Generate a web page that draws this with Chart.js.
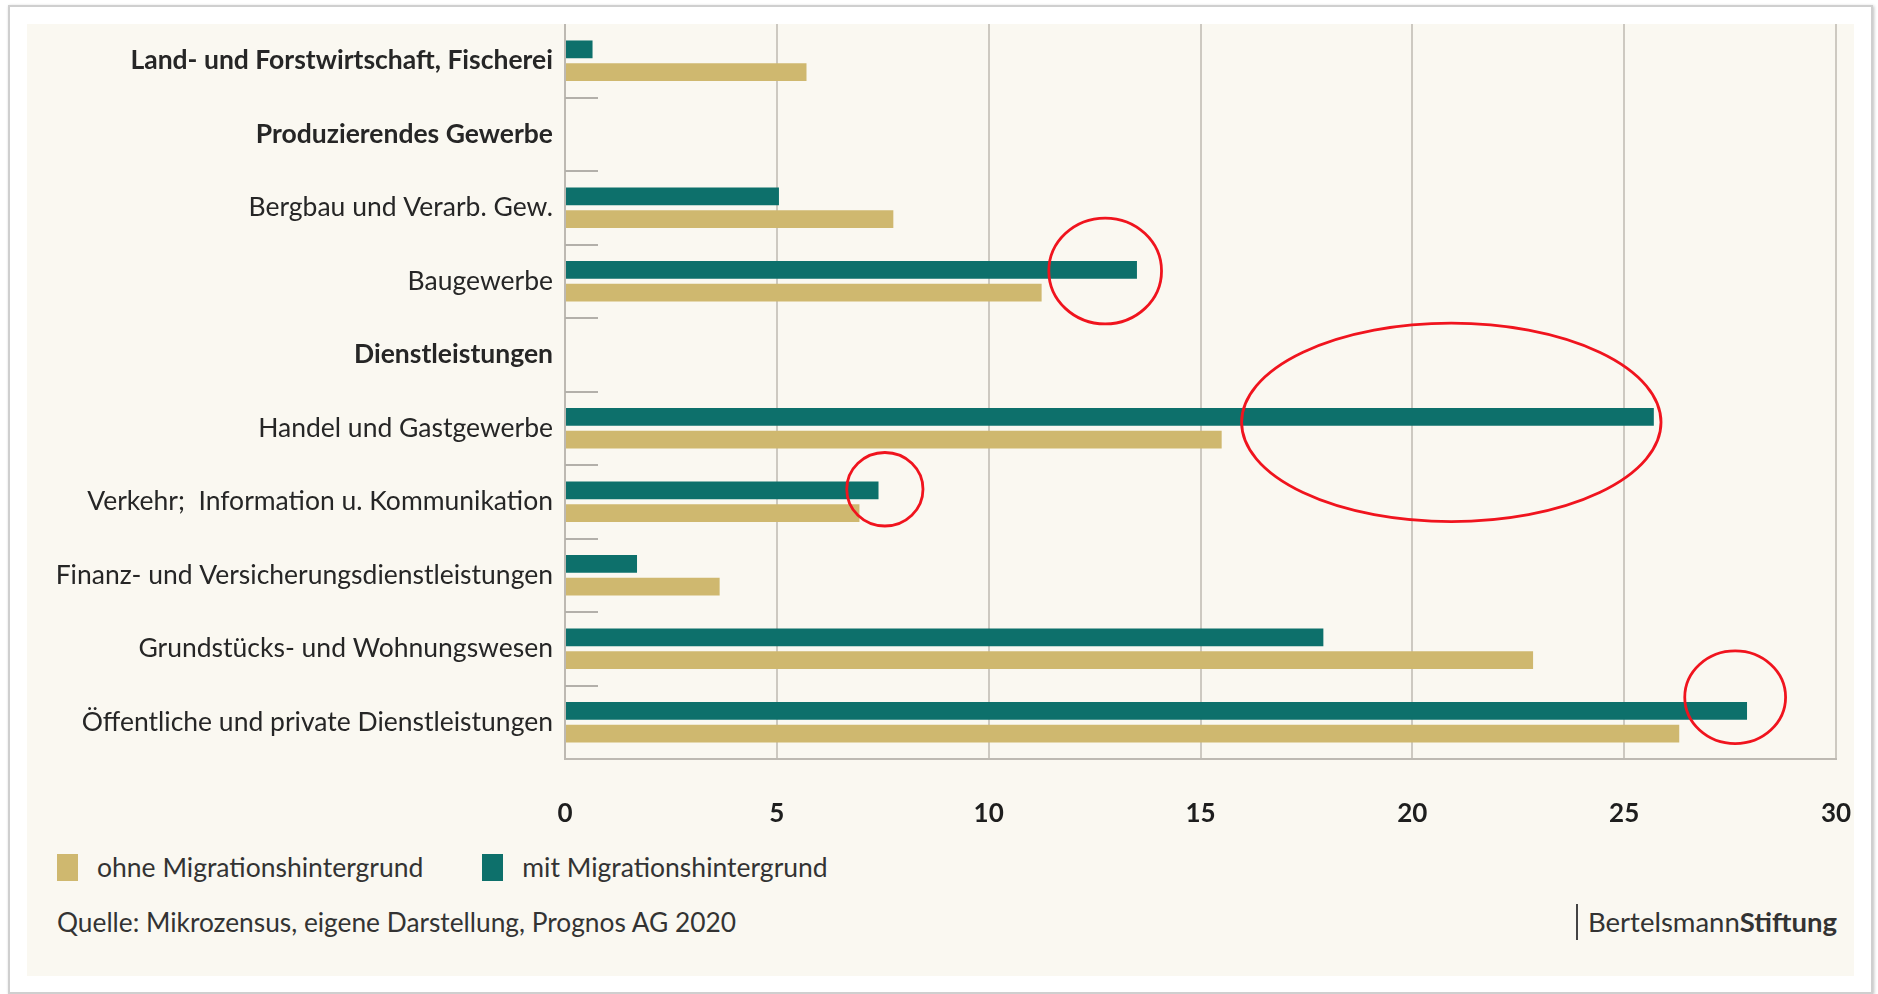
<!DOCTYPE html>
<html>
<head>
<meta charset="utf-8">
<script src="https://cdn.jsdelivr.net/npm/chart.js@4.4.1/dist/chart.umd.min.js"></script>
<style>
  html, body { margin: 0; padding: 0; background: #fff; }
  body { width: 1878px; height: 994px; position: relative; overflow: hidden; font-family: Lato, "Open Sans", sans-serif; color: #333; }
  .frame { position: absolute; left: 8px; top: 5px; width: 1861px; height: 985px; border: 2px solid #cfcfcf; box-shadow: 1px 1px 3px rgba(0,0,0,0.25); background: #fff; }
  .cream { position: absolute; left: 27px; top: 24px; width: 1827px; height: 952px; background: #faf8f1; }
  .chart-box { position: absolute; left: 27px; top: 24px; width: 1827px; height: 803px; }
  #legend { position: absolute; left: 57px; top: 851px; display: flex; align-items: center; font-size: 26.5px; }
  #legend .item { display: flex; align-items: center; margin-right: 59px; }
  #legend .box { width: 21px; height: 27px; margin-right: 19px; }
  .source { position: absolute; left: 57px; top: 906px; font-size: 26.3px; line-height: 32px; }
  .logo { position: absolute; left: 1576px; top: 904px; height: 36px; border-left: 2px solid #444; padding-left: 10px; font-size: 27.5px; line-height: 36px; color: #333; }
  .logo b { font-weight: 700; }
</style>
</head>
<body>
<div class="frame"></div>
<div class="cream"></div>
<div class="chart-box"><canvas id="myChart"></canvas></div>
<div id="legend"></div>
<div class="source">Quelle: Mikrozensus, eigene Darstellung, Prognos AG 2020</div>
<div class="logo">Bertelsmann<b>Stiftung</b></div>
<script>
// categories (rows), bold ones are the section headers
var categories = [
  'Land- und Forstwirtschaft, Fischerei',
  'Produzierendes Gewerbe',
  'Bergbau und Verarb. Gew.',
  'Baugewerbe',
  'Dienstleistungen',
  'Handel und Gastgewerbe',
  'Verkehr;  Information u. Kommunikation',
  'Finanz- und Versicherungsdienstleistungen',
  'Grundstücks- und Wohnungswesen',
  'Öffentliche und private Dienstleistungen'
];
var boldRows = [0, 1, 4];

// shares in percent
var mitMigration  = [0.65, null, 5.05, 13.5, null, 25.7, 7.4, 1.7, 17.9, 27.9];
var ohneMigration = [5.7, null, 7.75, 11.25, null, 15.5, 6.95, 3.65, 22.85, 26.3];

var xTicks = [0, 5, 10, 15, 20, 25, 30];

// red marker ellipses drawn over the picture (x in %, y in row index)
var markers = [
  { x: 12.75, y: 2.86, rx: 1.33, ry: 0.72 },
  { x: 20.92, y: 4.92, rx: 4.95, ry: 1.35 },
  { x: 7.55,  y: 5.83, rx: 0.9,  ry: 0.5 },
  { x: 27.62, y: 8.66, rx: 1.19, ry: 0.63 }
];

var rowTicks = {
  id: 'rowTicks',
  beforeDatasetsDraw: function(chart) {
    var y = chart.scales.y, ctx = chart.ctx, left = chart.chartArea.left;
    ctx.save();
    ctx.strokeStyle = '#b3b0aa';
    ctx.lineWidth = 2;
    for (var i = 1; i < categories.length; i++) {
      var py = Math.round((y.getPixelForValue(i - 1) + y.getPixelForValue(i)) / 2);
      ctx.beginPath();
      ctx.moveTo(left, py);
      ctx.lineTo(left + 33, py);
      ctx.stroke();
    }
    ctx.restore();
  }
};

var redMarkers = {
  id: 'redMarkers',
  afterDatasetsDraw: function(chart) {
    var xs = chart.scales.x, ys = chart.scales.y, ctx = chart.ctx;
    ctx.save();
    ctx.strokeStyle = '#f0141e';
    ctx.lineWidth = 2.8;
    markers.forEach(function(m) {
      var cx = xs.getPixelForValue(m.x), cy = ys.getPixelForValue(m.y);
      var rx = xs.getPixelForValue(m.x + m.rx) - cx;
      var ry = ys.getPixelForValue(m.y + m.ry) - cy;
      ctx.beginPath();
      ctx.ellipse(cx, cy, rx, ry, 0, 0, Math.PI * 2);
      ctx.stroke();
    });
    ctx.restore();
  }
};

var ctx = document.getElementById('myChart');
var myChart = new Chart(ctx, {
  type: 'bar',
  data: {
    labels: categories,
    datasets: [{
      label: 'mit Migrationshintergrund',
      data: mitMigration,
      backgroundColor: '#0d706b'
    }, {
      label: 'ohne Migrationshintergrund',
      data: ohneMigration,
      backgroundColor: '#cfb86f'
    }]
  },
  options: {
    indexAxis: 'y',
    responsive: true,
    maintainAspectRatio: false,
    animation: false,
    datasets: {
      bar: { categoryPercentage: 0.62, barPercentage: 0.78 }
    },
    layout: { padding: { left: 0, right: 18, top: 0, bottom: 0 } },
    plugins: {
      legend: { display: false },
      tooltip: { enabled: false }
    },
    scales: {
      x: {
        min: 0,
        max: 30,
        afterBuildTicks: function(scale) {
          scale.ticks = xTicks.map(function(v) { return { value: v }; });
        },
        afterFit: function(scale) {
          scale.height = 68;
          scale.paddingLeft = 0;
          scale.paddingRight = 0;
        },
        grid: { color: '#cdc9c1', lineWidth: 2, drawTicks: false },
        border: { color: '#bdb9b2', width: 2 },
        ticks: {
          padding: 39,
          color: '#1e1e1e',
          font: { family: 'Lato', size: 26, weight: 'bold' }
        }
      },
      y: {
        afterFit: function(scale) {
          scale.width = 538;
          scale.paddingTop = 0;
          scale.paddingBottom = 0;
        },
        grid: { display: false, drawTicks: false },
        border: { color: '#bdb9b2', width: 2 },
        ticks: {
          padding: 12,
          color: '#262626',
          font: function(c) {
            return { family: 'Lato', size: 26.5, weight: boldRows.indexOf(c.index) >= 0 ? 'bold' : 'normal' };
          }
        }
      }
    }
  },
  plugins: [rowTicks, redMarkers]
});

// html legend, ohne first like in the print version
var legendEl = document.getElementById('legend');
myChart.data.datasets.slice().reverse().forEach(function(ds) {
  var item = document.createElement('div');
  item.className = 'item';
  item.innerHTML = '<span class="box" style="background:' + ds.backgroundColor + '"></span><span>' + ds.label + '</span>';
  legendEl.appendChild(item);
});
</script>
</body>
</html>
